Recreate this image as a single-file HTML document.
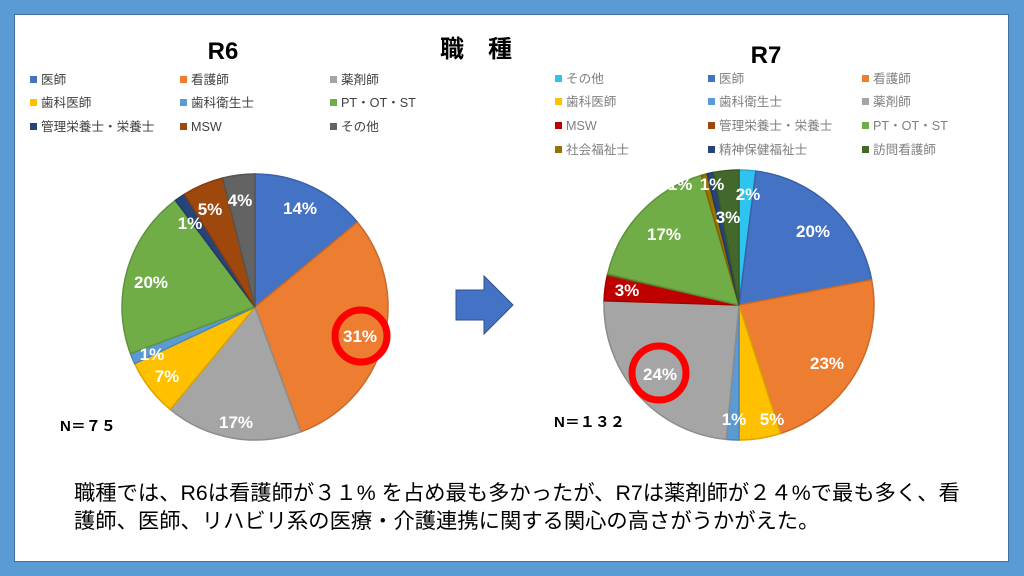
<!DOCTYPE html>
<html><head><meta charset="utf-8"><style>
body{margin:0;width:1024px;height:576px;overflow:hidden;background:#5b9bd5;font-family:"Liberation Sans","Noto Sans CJK JP",sans-serif}
#in{position:absolute;left:14px;top:14px;width:995px;height:548px;background:#fff;border:1px solid #41719c;box-sizing:border-box}
svg{position:absolute;left:0;top:0}
</style></head><body>
<div id="in"></div>
<svg width="1024" height="576" id="s" font-family="Liberation Sans, Noto Sans CJK JP, sans-serif">
<text x="223" y="59" font-size="24" font-weight="bold" text-anchor="middle">R6</text>
<text x="476" y="57" font-size="24" font-weight="bold" text-anchor="middle">職　種</text>
<text x="766" y="63" font-size="24" font-weight="bold" text-anchor="middle">R7</text>
<g id="leg" font-size="12.6"></g>
<g id="p1"></g><g id="p2"></g>
<g fill="#fff" font-size="17" font-weight="bold" text-anchor="middle" id="lab1">
<text x="300" y="214">14%</text><text x="360" y="342">31%</text><text x="236" y="428">17%</text>
<text x="167" y="382">7%</text><text x="152" y="360">1%</text><text x="151" y="288">20%</text>
<text x="190" y="229">1%</text><text x="210" y="215">5%</text><text x="240" y="206">4%</text>
</g>
<g fill="#fff" font-size="17" font-weight="bold" text-anchor="middle">
<text x="748" y="200">2%</text><text x="813" y="237">20%</text><text x="827" y="369">23%</text>
<text x="772" y="425">5%</text><text x="734" y="425">1%</text><text x="660" y="380">24%</text>
<text x="627" y="296">3%</text><text x="664" y="240">17%</text><text x="712" y="190">1%</text>
<text x="728" y="223">3%</text><text x="680" y="190">1%</text>
</g>
<circle cx="361" cy="336" r="26" fill="none" stroke="#ff0000" stroke-width="7"/>
<circle cx="659" cy="373" r="27" fill="none" stroke="#ff0000" stroke-width="7"/>
<polygon points="456,290 484,290 484,276 513,305 484,334 484,320 456,320" fill="#4472c4" stroke="#2f528f" stroke-width="1"/>
<text x="60" y="431" font-size="15" font-weight="bold">N＝７５</text>
<text x="554" y="427" font-size="15" font-weight="bold">N＝１３２</text>
<text x="74" y="500" font-size="21.3">職種では、R6は看護師が３１% を占め最も多かったが、R7は薬剤師が２４%で最も多く、看</text>
<text x="74" y="528" font-size="21.3">護師、医師、リハビリ系の医療・介護連携に関する関心の高さがうかがえた。</text>
</svg>
<script>
const NS="http://www.w3.org/2000/svg";
function pie(g,cx,cy,r,data){let a=0;const el=document.getElementById(g);
data.forEach(([v,c])=>{const a2=a+v/100*2*Math.PI;
const x1=cx+r*Math.sin(a),y1=cy-r*Math.cos(a),x2=cx+r*Math.sin(a2),y2=cy-r*Math.cos(a2);
const p=document.createElementNS(NS,"path");
p.setAttribute("d",`M${cx},${cy}L${x1},${y1}A${r},${r} 0 ${a2-a>Math.PI?1:0} 1 ${x2},${y2}Z`);
p.setAttribute("fill",c);p.setAttribute("stroke",shade(c));p.setAttribute("stroke-width","1.5");el.appendChild(p);a=a2;});}
function shade(c){const n=parseInt(c.slice(1),16);const f=x=>Math.round(x*0.85);
return "rgb("+f(n>>16)+","+f((n>>8)&255)+","+f(n&255)+")";}
pie("p1",255,307,133,[[14,"#4472c4"],[30.4,"#ed7d31"],[16.6,"#a5a5a5"],[7,"#ffc000"],[1.3,"#5b9bd5"],[20.5,"#70ad47"],[1.3,"#264478"],[5,"#9e480e"],[3.9,"#636363"]]);
pie("p2",739,305,135,[[2,"#2ec4f0"],[20,"#4472c4"],[23,"#ed7d31"],[5,"#ffc000"],[1.5,"#5b9bd5"],[24,"#a5a5a5"],[3,"#c00000"],[0.2,"#9e480e"],[16.8,"#70ad47"],[0.7,"#997300"],[0.8,"#264478"],[3,"#43682b"]]);
const leg=document.getElementById("leg");
function L(x,y,c,t,tc){const r=document.createElementNS(NS,"rect");r.setAttribute("x",x);r.setAttribute("y",y-8);r.setAttribute("width",7);r.setAttribute("height",7);r.setAttribute("fill",c);leg.appendChild(r);
const tx=document.createElementNS(NS,"text");tx.setAttribute("x",x+11);tx.setAttribute("y",y);tx.setAttribute("fill",tc);tx.textContent=t;leg.appendChild(tx);}
[[30,84,"#4472c4","医師"],[180,84,"#ed7d31","看護師"],[330,84,"#a5a5a5","薬剤師"],
[30,107,"#ffc000","歯科医師"],[180,107,"#5b9bd5","歯科衛生士"],[330,107,"#70ad47","PT・OT・ST"],
[30,131,"#264478","管理栄養士・栄養士"],[180,131,"#9e480e","MSW"],[330,131,"#636363","その他"]].forEach(d=>L(...d,"#404040"));
[[555,83,"#2ec4f0","その他"],[708,83,"#4472c4","医師"],[862,83,"#ed7d31","看護師"],
[555,106,"#ffc000","歯科医師"],[708,106,"#5b9bd5","歯科衛生士"],[862,106,"#a5a5a5","薬剤師"],
[555,130,"#c00000","MSW"],[708,130,"#9e480e","管理栄養士・栄養士"],[862,130,"#70ad47","PT・OT・ST"],
[555,154,"#997300","社会福祉士"],[708,154,"#264478","精神保健福祉士"],[862,154,"#43682b","訪問看護師"]].forEach(d=>L(...d,"#7f7f7f"));
const s=document.getElementById("s");
[...s.querySelectorAll("g[fill='#fff'],circle,#lab1")].forEach(n=>s.appendChild(n));
</script>
</body></html>
